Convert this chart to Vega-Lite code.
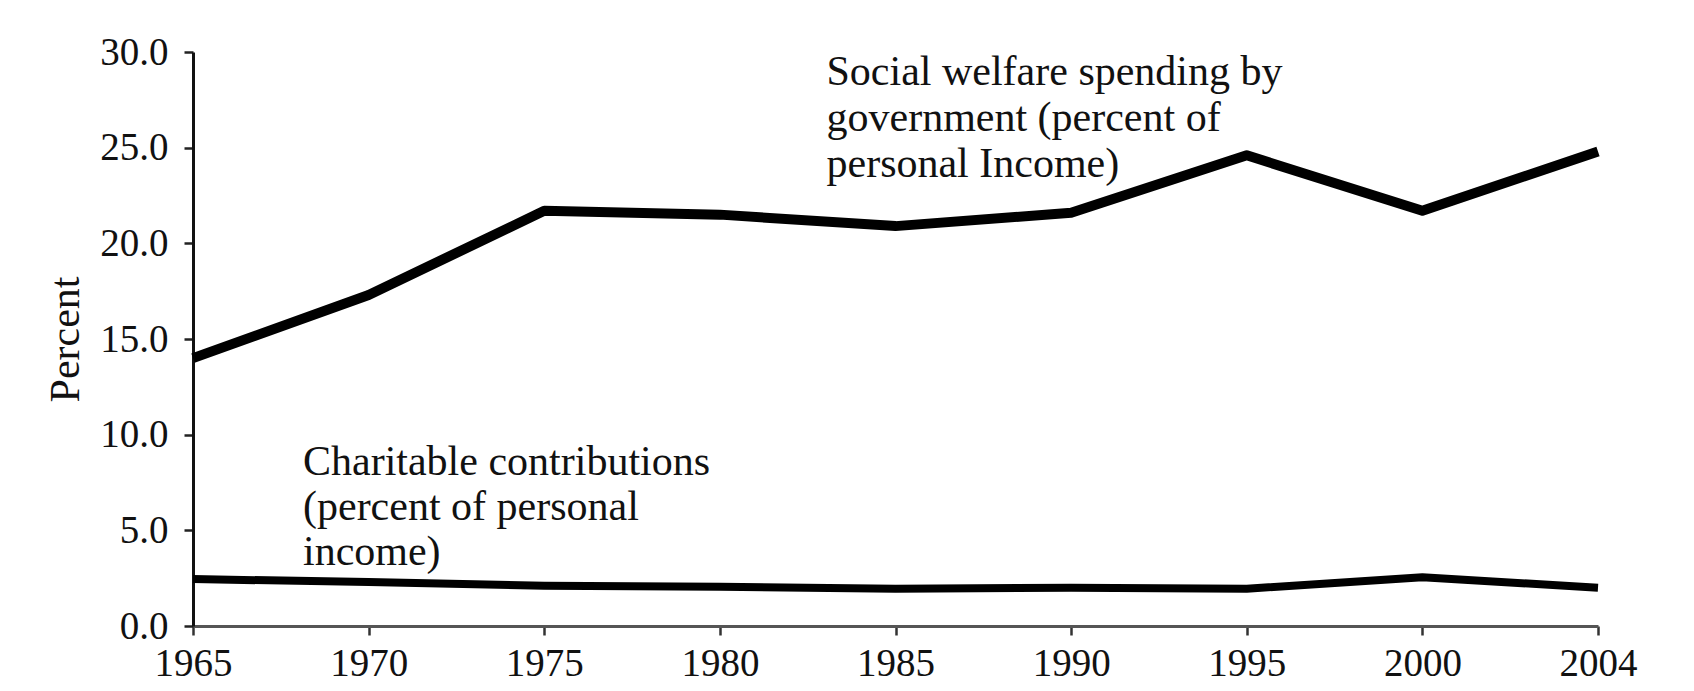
{
  "$schema": "https://vega.github.io/schema/vega-lite/v6.json",
  "width": 1405,
  "height": 574,
  "autosize": {"type": "none"},
  "padding": {"left": 193, "top": 52, "right": 96, "bottom": 65},
  "background": "white",
  "config": {"view": {"stroke": null}, "font": "Liberation Serif"},
  "datasets": {
    "series": [
      {"year": "1965", "series": "Social welfare", "value": 14.0},
      {"year": "1970", "series": "Social welfare", "value": 17.3},
      {"year": "1975", "series": "Social welfare", "value": 21.7},
      {"year": "1980", "series": "Social welfare", "value": 21.5},
      {"year": "1985", "series": "Social welfare", "value": 20.9},
      {"year": "1990", "series": "Social welfare", "value": 21.6},
      {"year": "1995", "series": "Social welfare", "value": 24.6},
      {"year": "2000", "series": "Social welfare", "value": 21.7},
      {"year": "2004", "series": "Social welfare", "value": 24.8},
      {"year": "1965", "series": "Charitable", "value": 2.45},
      {"year": "1970", "series": "Charitable", "value": 2.3},
      {"year": "1975", "series": "Charitable", "value": 2.1},
      {"year": "1980", "series": "Charitable", "value": 2.05},
      {"year": "1985", "series": "Charitable", "value": 1.95},
      {"year": "1990", "series": "Charitable", "value": 2.0},
      {"year": "1995", "series": "Charitable", "value": 1.95},
      {"year": "2000", "series": "Charitable", "value": 2.55},
      {"year": "2004", "series": "Charitable", "value": 2.0}
    ],
    "notes": [
      {"year": "1985", "value": 28.3, "series": "Social welfare", "label": "Social welfare spending by\ngovernment (percent of\npersonal Income)"},
      {"year": "1965", "value": 7.9, "series": "Charitable", "label": "Charitable contributions\n(percent of personal\nincome)"}
    ]
  },
  "layer": [
    {
      "data": {"name": "series"},
      "mark": {"type": "line", "color": "#000", "strokeJoin": "round", "strokeCap": "butt"},
      "encoding": {
        "x": {
          "field": "year", "type": "ordinal",
          "scale": {"type": "point", "padding": 0},
          "axis": {
            "title": null, "labelAngle": 0, "labelFontSize": 39, "labelColor": "#111",
            "labelPadding": 9, "tickSize": 9, "tickWidth": 2.5, "tickColor": "#333",
            "domainWidth": 3, "domainColor": "#555", "grid": false
          }
        },
        "y": {
          "field": "value", "type": "quantitative",
          "scale": {"domain": [0, 30], "nice": false},
          "axis": {
            "values": [0, 5, 10, 15, 20, 25, 30], "format": ".1f",
            "labelFontSize": 39, "labelColor": "#111", "labelPadding": 16,
            "tickSize": 9, "tickWidth": 2.5, "tickColor": "#222",
            "domainWidth": 3, "domainColor": "#111", "grid": false,
            "title": "Percent", "titleFontSize": 42, "titleFontWeight": "normal",
            "titleColor": "#111", "titlePadding": 12
          }
        },
        "detail": {"field": "series"},
        "strokeWidth": {
          "field": "series", "type": "nominal",
          "scale": {"domain": ["Social welfare", "Charitable"], "range": [10, 8]},
          "legend": null
        }
      }
    },
    {
      "data": {"name": "notes"},
      "transform": [{"filter": "datum.series === 'Social welfare'"}],
      "mark": {"type": "text", "align": "left", "baseline": "alphabetic", "dx": -69, "fontSize": 42, "lineHeight": 46, "lineBreak": "\n", "color": "#111"},
      "encoding": {
        "x": {"field": "year", "type": "ordinal"},
        "y": {"field": "value", "type": "quantitative"},
        "text": {"field": "label"}
      }
    },
    {
      "data": {"name": "notes"},
      "transform": [{"filter": "datum.series === 'Charitable'"}],
      "mark": {"type": "text", "align": "left", "baseline": "alphabetic", "dx": 110, "fontSize": 42, "lineHeight": 45, "lineBreak": "\n", "color": "#111"},
      "encoding": {
        "x": {"field": "year", "type": "ordinal"},
        "y": {"field": "value", "type": "quantitative"},
        "text": {"field": "label"}
      }
    }
  ]
}
